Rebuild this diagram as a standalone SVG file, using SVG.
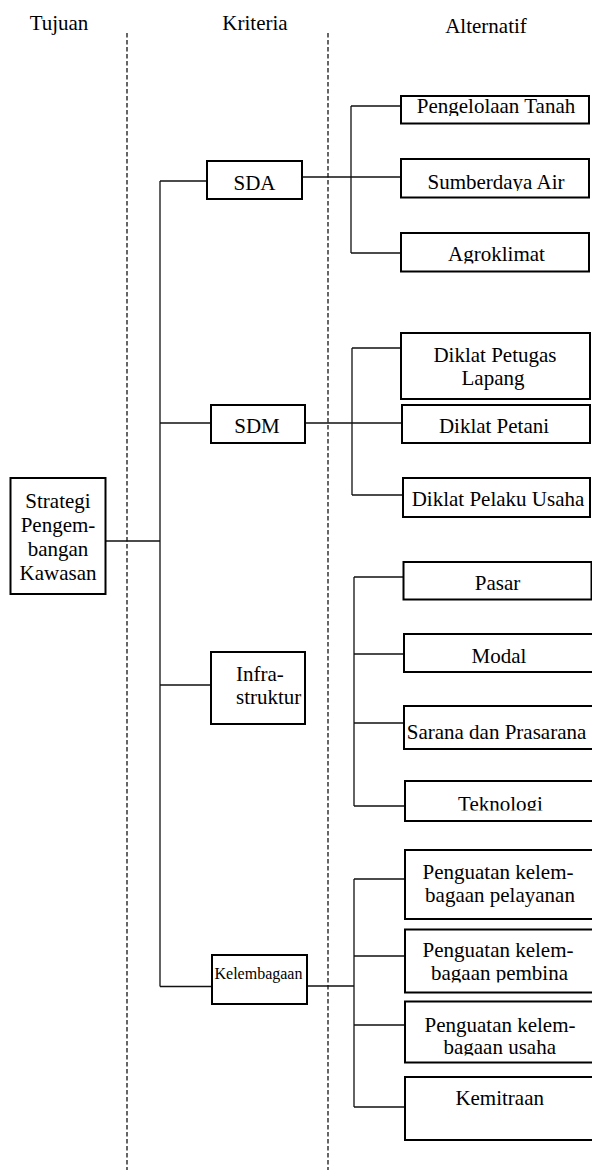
<svg xmlns="http://www.w3.org/2000/svg" width="592" height="1171" viewBox="0 0 592 1171">
<style>
text{font-family:"Liberation Serif","Times New Roman",serif;font-size:21px;fill:#000}
.m{text-anchor:middle}
.s{font-size:16px}
.box{fill:#fff;stroke:#000;stroke-width:2}
.con{fill:none;stroke:#111;stroke-width:1.3}
.dash{fill:none;stroke:#000;stroke-width:1.2;stroke-dasharray:4.5 2.5}
</style>
<defs>
<clipPath id="c1"><rect x="401" y="90" width="200" height="26"/></clipPath>
<clipPath id="c2"><rect x="401" y="160" width="200" height="31"/></clipPath>
<clipPath id="c3"><rect x="401" y="234" width="200" height="29.5"/></clipPath>
<clipPath id="c4"><rect x="405" y="782" width="200" height="28.5"/></clipPath>
<clipPath id="c5"><rect x="405" y="930" width="200" height="52.5"/></clipPath>
<clipPath id="c6"><rect x="405" y="1002" width="200" height="53.5"/></clipPath>
</defs>

<g id="headers">
<text class="m" x="59" y="30">Tujuan</text>
<text class="m" x="255" y="30">Kriteria</text>
<text class="m" x="486" y="33">Alternatif</text>
</g>

<g id="separators">
<line class="dash" x1="127" y1="33" x2="127" y2="1170"/>
<line class="dash" x1="328" y1="33" x2="328" y2="1170"/>
</g>

<g id="connectors">
<path class="con" d="M105.5 541H160M160 181V986.5M160 181H210M160 423H211M160 685H211M160 986.5H212"/>
<path class="con" d="M302 177H401M351 106V253M351 106H401M351 253H401"/>
<path class="con" d="M305 423H402M352 348V495M352 348H401M352 495H403"/>
<path class="con" d="M354 577V806M354 577H404M354 654H404M354 723H404M354 806H405"/>
<path class="con" d="M307 986H354M354 879V1107M354 879H405M354 956H405M354 1025H405M354 1107H405"/>
</g>

<g id="n-goal">
<rect class="box" x="10.5" y="478" width="95" height="116"/>
<text class="m" x="58" y="508">Strategi</text>
<text class="m" x="58" y="532">Pengem-</text>
<text class="m" x="58" y="556">bangan</text>
<text class="m" x="58" y="580">Kawasan</text>
</g>

<g id="n-sda">
<rect class="box" x="207" y="161" width="95" height="38"/>
<text class="m" x="254.5" y="190">SDA</text>
</g>
<g id="n-sdm">
<rect class="box" x="211" y="405" width="94" height="38"/>
<text class="m" x="257" y="433">SDM</text>
</g>
<g id="n-infra">
<rect class="box" x="211" y="652" width="94" height="72"/>
<text x="236" y="681">Infra-</text>
<text x="236" y="704">struktur</text>
</g>
<g id="n-kel">
<rect class="box" x="212" y="955" width="95" height="49"/>
<text class="m s" x="258.5" y="978.5">Kelembagaan</text>
</g>

<g id="a-tanah">
<rect class="box" x="401" y="96" width="188" height="27.5"/>
<text class="m" x="496" y="113" clip-path="url(#c1)">Pengelolaan Tanah</text>
</g>
<g id="a-air">
<rect class="box" x="401" y="159" width="188" height="38.5"/>
<text class="m" x="496" y="189" clip-path="url(#c2)">Sumberdaya Air</text>
</g>
<g id="a-agro">
<rect class="box" x="401" y="233" width="188" height="38.5"/>
<text class="m" x="496.5" y="261" clip-path="url(#c3)">Agroklimat</text>
</g>

<g id="a-petugas">
<rect class="box" x="401" y="333" width="189" height="66"/>
<text class="m" x="495" y="362">Diklat Petugas</text>
<text class="m" x="493" y="385">Lapang</text>
</g>
<g id="a-petani">
<rect class="box" x="402" y="405" width="188" height="38"/>
<text class="m" x="494" y="433">Diklat Petani</text>
</g>
<g id="a-pelaku">
<rect class="box" x="403" y="478" width="187" height="39"/>
<text class="m" x="498" y="506">Diklat Pelaku Usaha</text>
</g>

<g id="a-pasar">
<rect class="box" x="403.5" y="562" width="188" height="37.5"/>
<text class="m" x="497.5" y="590">Pasar</text>
</g>
<g id="a-modal">
<rect class="box" x="404" y="634" width="192" height="38"/>
<text class="m" x="499" y="663">Modal</text>
</g>
<g id="a-sarana">
<rect class="box" x="404" y="706" width="192" height="43"/>
<text class="m" x="496.5" y="739">Sarana dan Prasarana</text>
</g>
<g id="a-teknologi">
<rect class="box" x="405" y="781" width="192" height="40"/>
<text class="m" x="500.5" y="810.5" clip-path="url(#c4)">Teknologi</text>
</g>

<g id="a-pelayanan">
<rect class="box" x="405" y="850" width="192" height="69"/>
<text class="m" x="498" y="878.5">Penguatan kelem-</text>
<text class="m" x="500" y="902">bagaan pelayanan</text>
</g>
<g id="a-pembina">
<rect class="box" x="405" y="929.5" width="192" height="63"/>
<text class="m" x="498" y="957">Penguatan kelem-</text>
<text class="m" x="499.5" y="980" clip-path="url(#c5)">bagaan pembina</text>
</g>
<g id="a-usaha">
<rect class="box" x="405" y="1001.5" width="192" height="61"/>
<text class="m" x="500" y="1031.5">Penguatan kelem-</text>
<text class="m" x="499.7" y="1053.5" clip-path="url(#c6)">bagaan usaha</text>
</g>
<g id="a-kemitraan">
<rect class="box" x="405" y="1077" width="192" height="63"/>
<text class="m" x="499.7" y="1105">Kemitraan</text>
</g>
</svg>
